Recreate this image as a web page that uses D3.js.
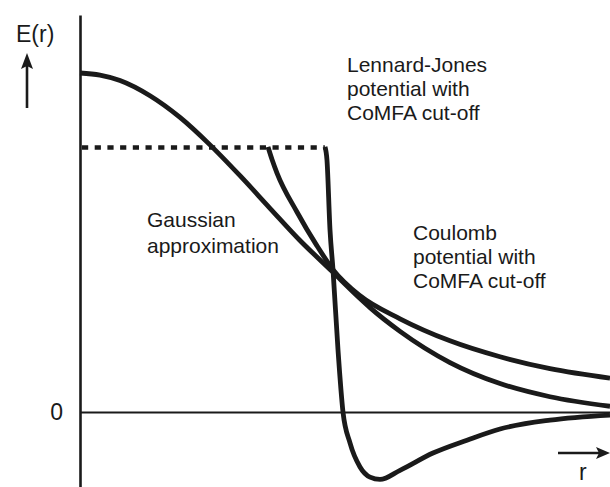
<!DOCTYPE html>
<html>
<head>
<meta charset="utf-8">
<script src="https://cdn.jsdelivr.net/npm/d3@7"></script>
<style>
  html, body { margin: 0; padding: 0; background: #fff; }
  svg { display: block; }
  text { font-family: "Liberation Sans", Arial, Helvetica, sans-serif; fill: #1a1a1a; }
</style>
</head>
<body>
<svg id="chart" width="610" height="487"></svg>
<script>
// ---- Data (r in arbitrary distance units, E relative to Gaussian peak) ----
const cutoff = 0.78;
const cutoffStartR = 0;
const cutoffEndR = 4.62;

const gaussR = [0, 0.377, 0.755, 1.321, 1.887, 2.453, 3.019, 3.585, 4.151, 4.755, 5.283, 5.472, 6.038, 6.981, 7.925, 8.868, 10];
const gaussE = [1.00, 0.994, 0.978, 0.933, 0.869, 0.788, 0.697, 0.601, 0.506, 0.415, 0.335, 0.308, 0.238, 0.146, 0.084, 0.045, 0.017];

const coulR = [3.547, 3.623, 3.717, 4.094, 4.472, 4.774, 5.283, 6.038, 6.981, 7.925, 8.868, 10];
const coulE = [0.782, 0.745, 0.705, 0.590, 0.490, 0.420, 0.343, 0.275, 0.210, 0.163, 0.128, 0.100];

const ljR = [4.623, 4.66, 4.717, 4.774, 4.868, 4.962, 5.094, 5.283, 5.472, 5.66, 6.038, 6.66, 7.302, 7.925, 8.868, 10];
const ljE = [0.782, 0.743, 0.537, 0.419, 0.183, 0, -0.091, -0.162, -0.192, -0.199, -0.172, -0.121, -0.083, -0.050, -0.024, -0.009];

const yTickValues = [0];
const yTickLabels = ["0"];
const yAxisLabel = "E(r)";
const xAxisLabel = "r";
const ljLabel = ["Lennard-Jones", "potential with", "CoMFA cut-off"];
const coulLabel = ["Coulomb", "potential with", "CoMFA cut-off"];
const gaussLabel = ["Gaussian", "approximation"];

// ---- Layout ----
const svg = d3.select("#chart");
const ink = "#1a1a1a";
const x = d3.scaleLinear().domain([0, 10]).range([80, 610]);
const y = d3.scaleLinear().domain([-0.2212, 1.1711]).range([487, 15]);

// Y axis (vertical line with the single "0" label)
const yAxis = d3.axisLeft(y)
  .tickValues(yTickValues)
  .tickFormat((d, i) => yTickLabels[i])
  .tickSize(0)
  .tickSizeOuter(0)
  .tickPadding(17);
const gy = svg.append("g").attr("transform", `translate(${x(0)},0)`).call(yAxis);
gy.select(".domain").attr("stroke", ink).attr("stroke-width", 2.6);
gy.selectAll(".tick text")
  .attr("font-size", 23)
  .attr("font-family", "Liberation Sans, Arial, sans-serif")
  .attr("fill", ink);

// Zero line (x axis without ticks)
const xAxis = d3.axisBottom(x).tickValues([]).tickSize(0).tickSizeOuter(0);
const gx = svg.append("g").attr("transform", `translate(0,${y(0)})`).call(xAxis);
gx.select(".domain").attr("stroke", ink).attr("stroke-width", 2);

// Cut-off dotted line
svg.append("line")
  .attr("x1", x(cutoffStartR) + 2).attr("x2", x(cutoffEndR))
  .attr("y1", y(cutoff)).attr("y2", y(cutoff))
  .attr("stroke", ink).attr("stroke-width", 4.5)
  .attr("stroke-dasharray", "6.2,6.5");

// Curves
const line = d3.line().x(d => x(d[0])).y(d => y(d[1])).curve(d3.curveMonotoneX);
function drawCurve(rs, es) {
  svg.append("path")
    .datum(rs.map((r, i) => [r, es[i]]))
    .attr("d", line)
    .attr("fill", "none")
    .attr("stroke", ink)
    .attr("stroke-width", 4.8)
    .attr("stroke-linejoin", "round")
    .attr("stroke-linecap", "butt");
}
drawCurve(gaussR, gaussE);
drawCurve(coulR, coulE);
drawCurve(ljR, ljE);

// Axis labels with arrows
svg.append("text").attr("x", 16).attr("y", 42).attr("font-size", 23).text(yAxisLabel);
svg.append("line").attr("x1", 27).attr("x2", 27).attr("y1", 108).attr("y2", 64)
  .attr("stroke", ink).attr("stroke-width", 2.6);
svg.append("path").attr("d", "M27,53 L33,69 L27,66 L21,69 Z").attr("fill", ink);

svg.append("line").attr("x1", 558).attr("x2", 600).attr("y1", 453).attr("y2", 453)
  .attr("stroke", ink).attr("stroke-width", 2.6);
svg.append("path").attr("d", "M610,453 L596,447 L599,453 L596,459 Z").attr("fill", ink);
svg.append("text").attr("x", 579).attr("y", 480).attr("font-size", 23).text(xAxisLabel);

// Curve annotations
function multi(lines, x0, y0, dy) {
  const t = svg.append("text").attr("font-size", 21);
  lines.forEach((s, i) => t.append("tspan").attr("x", x0).attr("y", y0 + i * dy).text(s));
}
multi(ljLabel, 347, 72, 24);
multi(coulLabel, 413, 240, 24);
multi(gaussLabel, 147, 227, 26);
</script>
</body>
</html>
